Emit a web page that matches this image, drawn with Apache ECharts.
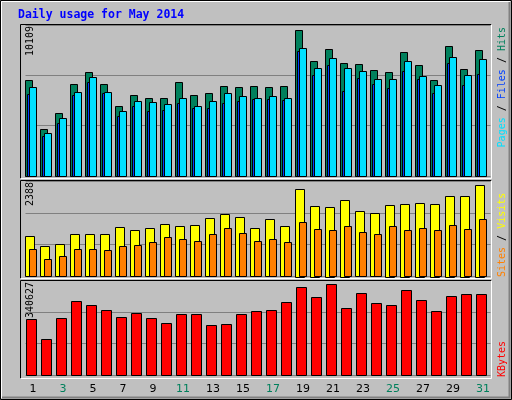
<!DOCTYPE html>
<html><head><meta charset="utf-8">
<script src="https://cdn.jsdelivr.net/npm/echarts@6/dist/echarts.min.js"></script>
<style>html,body{margin:0;padding:0;background:#c0c0c0}#c{width:512px;height:400px}</style>
</head><body><div id="c"></div>
<script>
const days = ['1','2','3','4','5','6','7','8','9','10','11','12','13','14','15','16','17','18','19','20','21','22','23','24','25','26','27','28','29','30','31'];
const weekendDays = ['3','4','10','11','17','18','24','25','31'];
const hits = [6594,3217,4319,6318,7214,6318,4802,5560,5353,5353,6456,5560,5698,6180,6111,6180,6111,6180,10109,7972,8799,7834,7766,7352,7214,8593,7697,6594,9006,7421,8731];
const files = [5629,2734,3630,5560,6456,5698,4113,4802,4457,4526,5009,4664,4664,5009,5146,5284,5284,5215,8662,7007,7697,5836,6801,6318,6042,7283,6663,5698,7834,6249,7076];
const pages = [6111,2941,3975,5767,6870,5767,4457,5146,5077,4940,5353,4802,5146,5698,5491,5353,5491,5353,8868,7490,8179,7490,7283,6663,6732,7972,6938,6249,8248,7007,8110];
const visits = [1038,779,831,1090,1090,1090,1272,1194,1246,1350,1298,1324,1505,1609,1531,1246,1479,1298,2284,1843,1817,1999,1687,1635,1869,1895,1921,1895,2102,2102,2388];
const sites = [701,441,519,701,701,675,779,805,882,1012,960,908,1090,1246,1116,908,960,882,1402,1220,1194,1298,1142,1090,1298,1194,1246,1194,1324,1220,1479];
const kbytes = [209614,134752,213357,276989,262017,243302,217100,232072,213357,194641,228329,228329,187155,190898,228329,239558,243302,273246,329393,291962,340627,250788,306934,269503,262017,318164,280733,239558,295705,303191,303191];
const maxLabels = ['10109','2388','340627'];

const chart = echarts.init(document.getElementById('c'), null, {renderer:'canvas'});
const grids = [{left:25.5,width:465,top:25,height:151},{left:25.5,width:465,top:181,height:95.3},{left:25.5,width:465,top:280.3,height:95}];
const ymax = [10426,2481,355600];
function mk(gi, arr, off, w, fill){
  return {type:'custom', xAxisIndex:gi, yAxisIndex:gi, data:arr.map((v,i)=>[i,v]),
    encode:{x:0,y:1},
    renderItem:(p,api)=>{const b=api.coord([api.value(0),0]);const t=api.coord([api.value(0),api.value(1)]);
      return {type:'rect',shape:{x:Math.round(b[0]+off)+0.5,y:Math.round(t[1])+0.5,width:w,height:Math.round(b[1]-t[1])},
        style:{fill:fill,stroke:'#000',lineWidth:1}};}};
}
const xAxes = grids.map((g,i)=>({type:'category',gridIndex:i,data:days,boundaryGap:true,
  axisLine:{show:false},axisTick:{show:false},
  axisLabel:{show:i===2,margin:8,fontFamily:'DejaVu Sans',fontSize:11,
    color:(v)=>weekendDays.includes(v)?'#00805c':'#000'}}));
const yAxes = grids.map((g,i)=>({type:'value',gridIndex:i,min:0,max:ymax[i],interval:ymax[i]/3,
  axisLabel:{show:false},axisLine:{show:false},axisTick:{show:false},
  splitLine:{show:true,lineStyle:{color:'#808080',width:1}}}));
function frame(x1,y1,x2,y2){return [
  {type:'polyline',shape:{points:[[x1,y2],[x1,y1],[x2,y1]]},style:{stroke:'#000',lineWidth:1,fill:null},z:50},
  {type:'polyline',shape:{points:[[x2,y1],[x2,y2],[x1,y2]]},style:{stroke:'#fff',lineWidth:1,fill:null},z:50}];}
const mono = 'DejaVu Sans Mono';
function vtext(x,y,rich,align){return {type:'text',x:x,y:y,rotation:Math.PI/2,z:60,
  style:{text:rich.map(r=>'{'+r[1]+'|'+r[0]+'}').join(''),align:align,verticalAlign:'middle',
    font:'10px '+mono,rich:{k:{fill:'#000',font:'10px '+mono},pg:{fill:'#00e0ff',font:'10px '+mono},fl:{fill:'#0040ff',font:'10px '+mono},ht:{fill:'#00805c',font:'10px '+mono},st:{fill:'#ff8000',font:'10px '+mono},vs:{fill:'#ffff00',font:'10px '+mono},kb:{fill:'#ff0000',font:'10px '+mono}}}};}
const graphic = [].concat(
  [{type:'polyline',shape:{points:[[0.5,399.5],[0.5,0.5],[511.5,0.5],[511.5,399.5],[0.5,399.5]]},style:{stroke:'#000',fill:null},z:40},
   {type:'polyline',shape:{points:[[1.5,398],[1.5,1.5],[510,1.5]]},style:{stroke:'#fff',fill:null},z:40},
   {type:'polyline',shape:{points:[[2,397.5],[509.5,397.5],[509.5,2]]},style:{stroke:'#808080',lineWidth:2,fill:null},z:40},
   {type:'text',x:18,y:15,z:60,style:{text:'Daily usage for May 2014',fill:'#0000ff',font:'bold 11.5px '+mono,verticalAlign:'middle'}}],
  frame(20.5,24.5,491.5,178.5),frame(20.5,180.5,491.5,278.5),frame(20.5,280.5,491.5,378.5),
  [vtext(30,26,[['10109','k']],'right'),vtext(30,182,[['2388','k']],'right'),vtext(30,282,[['340627','k']],'right'),
   vtext(502,27,[['Pages','pg'],[' / ','k'],['Files','fl'],[' / ','k'],['Hits','ht']],'right'),
   vtext(502,277,[['Sites','st'],[' / ','k'],['Visits','vs']],'left'),
   vtext(502,377,[['KBytes','kb']],'left')]
);
chart.setOption({animation:false,backgroundColor:'#c0c0c0',
  grid:grids.map(g=>Object.assign({containLabel:false},g)),
  xAxis:xAxes,yAxis:yAxes,graphic:graphic,
  series:[mk(0,hits,-8,7,'#00805c'),mk(0,files,-6.5,7,'#0040ff'),mk(0,pages,-4,7,'#00e0ff'),
    mk(1,visits,-8,9,'#ffff00'),mk(1,sites,-4,7,'#ff8000'),
    mk(2,kbytes,-7,10,'#ff0000')]});
</script></body></html>
